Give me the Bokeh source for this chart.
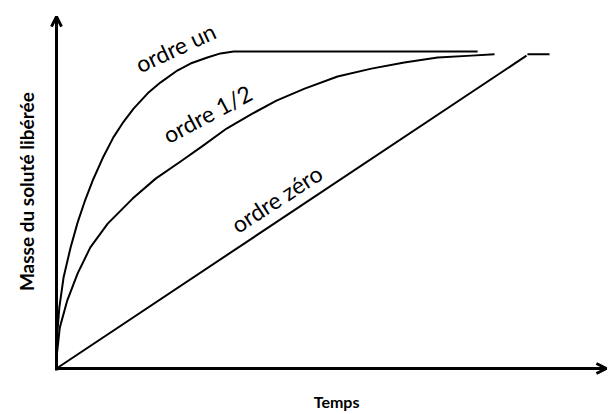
from bokeh.plotting import figure
from bokeh.models import Range1d, Arrow, OpenHead, Label
from bokeh.embed import file_html
from bokeh.resources import INLINE

# ---- data (time in arbitrary units, mass in % of plateau) ----
t_un = [0, 0.1, 0.6, 1.5, 3.0, 4.5, 6.0, 7.7, 10.0, 12.1, 14.3, 16.4, 19.4, 22.1,
        25.7, 28.5, 32.1, 34.9, 37.7, 41.3, 89.6]
m_un = [0, 9.8, 19.2, 28.7, 38.2, 46.1, 52.7, 59.3, 66.9, 72.9, 77.9, 82.0, 86.8, 90.2,
        94.0, 96.2, 98.1, 99.4, 100, 100, 100]

t_demi = [0, 0.1, 0.7, 2.3, 4.5, 7.2, 10.9, 16.2, 21.1, 26.4, 30.9, 36.2, 41.3,
          46.8, 52.8, 59.8, 67.0, 74.0, 81.1, 88.3, 93.2]
m_demi = [0, 4.7, 12.9, 21.5, 30.0, 38.2, 45.7, 53.6, 59.9, 65.3, 70.0, 75.7, 80.1,
          84.5, 88.3, 92.1, 94.6, 96.5, 98.1, 98.7, 99.1]

t_zero = [0, 100]
m_zero = [0, 98.7]

t_zero_plateau = [100.2, 104.9]
m_zero_plateau = [99.1, 99.1]

labels = ["ordre un", "ordre 1/2", "ordre zéro"]
x_title = "Temps"
y_title = "Masse du soluté libérée"

FONT = "Lato"

p = figure(width=608, height=414, output_backend="svg", toolbar_location=None,
           x_axis_type=None, y_axis_type=None,
           x_range=Range1d(-11.915, 117.45), y_range=Range1d(-14.51, 116.09),
           min_border=0, min_border_left=0, min_border_right=0,
           min_border_top=0, min_border_bottom=0)
p.outline_line_color = None
p.background_fill_color = "white"
p.border_fill_color = "white"

# curves
for xs, ys in [(t_un, m_un), (t_demi, m_demi), (t_zero, m_zero),
               (t_zero_plateau, m_zero_plateau)]:
    p.line(xs, ys, line_color="black", line_width=2, line_join="round")

# axes with arrows
p.add_layout(Arrow(end=OpenHead(size=10, line_width=3, line_color="black"),
                   x_start=0, y_start=-0.6, x_end=0, y_end=111.0,
                   line_width=3, line_color="black"))
p.add_layout(Arrow(end=OpenHead(size=10, line_width=3, line_color="black"),
                   x_start=-0.3, y_start=0, x_end=117.0, y_end=0,
                   line_width=3, line_color="black"))

# curve labels
for txt, x, y, ang in [(labels[0], 25.3, 101.3, 25),
                       (labels[1], 32.1, 80.4, 28),
                       (labels[2], 46.8, 53.6, 33)]:
    p.add_layout(Label(x=x, y=y, text=txt, angle=ang, angle_units="deg",
                       text_align="center", text_baseline="middle",
                       text_font=FONT, text_font_size="23px", text_color="black"))

# axis titles
p.add_layout(Label(x=59.6, y=-10.5, text=x_title, text_align="center",
                   text_baseline="middle", text_font=FONT, text_font_style="bold",
                   text_font_size="16px", text_color="black"))
p.add_layout(Label(x=-6.4, y=55.8, text=y_title, angle=90, angle_units="deg",
                   text_align="center", text_baseline="middle",
                   text_font=FONT, text_font_style="bold",
                   text_font_size="19px", text_color="black"))

open("out.html", "w").write(file_html(p, INLINE))
